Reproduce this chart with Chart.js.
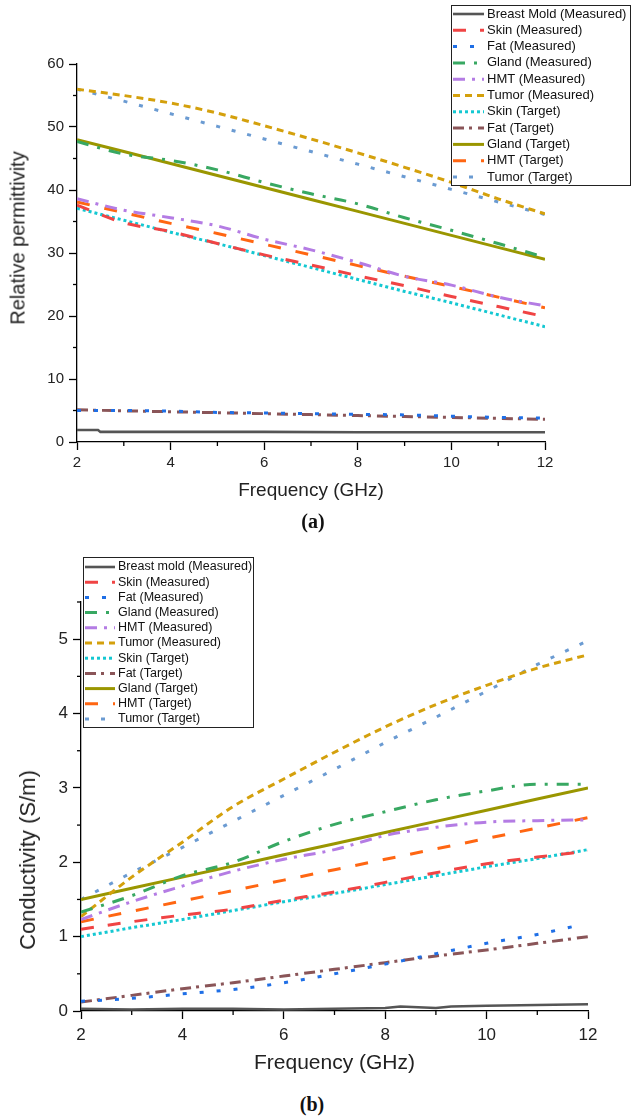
<!DOCTYPE html>
<html>
<head>
<meta charset="utf-8">
<script src="https://cdn.jsdelivr.net/npm/chart.js@4.4.0/dist/chart.umd.min.js"></script>
<style>
  body { margin: 0; background: #fff; width: 631px; height: 1119px; position: relative; overflow: hidden;
         font-family: "Liberation Sans", Arial, sans-serif; }
  canvas { position: absolute; left: 0; }
  #chartA { top: 0; }
  #chartB { top: 545px; }
  .ytitle { position: absolute; color: #222; white-space: nowrap; transform: translate(-50%, -50%) rotate(-90deg); }
  .cap { position: absolute; font-family: "Liberation Serif", "Times New Roman", serif; font-weight: bold;
         font-size: 20px; color: #111; transform: translate(-50%, -50%); }
</style>
</head>
<body>
<canvas id="chartA" width="631" height="510" style="width:631px;height:510px"></canvas>
<canvas id="chartB" width="631" height="545" style="width:631px;height:545px"></canvas>
<div class="ytitle" style="left:18px;top:238px;font-size:20px">Relative permittivity</div>
<div class="ytitle" style="left:28px;top:860px;font-size:22px">Conductivity (S/m)</div>
<div class="cap" style="left:313px;top:521px">(a)</div>
<div class="cap" style="left:312px;top:1104px">(b)</div>
<script>
// ---------- données (a) : permittivité relative ----------
const freqA = [2, 3, 4, 5, 6, 7, 8, 9, 10, 11, 12];
const moldFreqA = [2, 2.45, 2.5, 4, 6, 8, 10, 12];
const moldA = [1.9, 1.9, 1.6, 1.6, 1.6, 1.55, 1.55, 1.55];
const skinMeasA = [37.6, 34.8, 33.4, 31.5, 29.7, 28.1, 26.4, 24.8, 23.1, 21.5, 19.9];
const fatMeasA = [5.0, 5.0, 4.9, 4.7, 4.6, 4.5, 4.4, 4.3, 4.1, 3.9, 3.8];
const glandMeasA = [47.7, 45.7, 44.7, 43.2, 41.2, 39.4, 37.8, 35.6, 33.6, 31.5, 29.3];
const hmtMeasA = [38.6, 36.8, 35.6, 34.3, 32.2, 30.5, 28.5, 26.3, 24.9, 23.0, 21.6];
const tumorMeasA = [56.0, 55.0, 53.8, 52.2, 50.2, 48.1, 45.9, 43.6, 41.2, 38.6, 36.2];
const skinTgtA = [37.1, 35.2, 33.3, 31.5, 29.6, 27.7, 25.8, 23.9, 22.1, 20.2, 18.3];
const fatTgtA = [5.1, 4.95, 4.8, 4.65, 4.5, 4.35, 4.2, 4.05, 3.9, 3.75, 3.6];
const glandTgtA = [48.0, 46.1, 44.2, 42.3, 40.4, 38.5, 36.6, 34.7, 32.8, 30.9, 29.0];
const hmtTgtA = [38.1, 36.4, 34.7, 33.1, 31.4, 29.7, 28.0, 26.3, 24.7, 23.0, 21.3];
const tumorTgtA = [56.0, 54.1, 52.1, 50.1, 48.1, 46.1, 44.1, 42.1, 40.1, 38.1, 36.1];
const xTicksMinor = [3, 5, 7, 9, 11];
const yMinorA = [5, 15, 25, 35, 45, 55];

// ---------- données (b) : conductivité ----------
const freqB = [2, 3, 4, 5, 6, 7, 8, 9, 10, 11, 12];
const moldFreqB = [2, 3, 4, 5, 6, 7, 8, 8.3, 9, 9.3, 10, 11, 12];
const moldB = [0.03, 0.02, 0.03, 0.03, 0.02, 0.03, 0.04, 0.06, 0.04, 0.06, 0.07, 0.08, 0.09];
const skinMeasB = [1.1, 1.2, 1.29, 1.37, 1.49, 1.6, 1.73, 1.86, 1.98, 2.07, 2.15];
const fatFreqB = [2, 3, 4, 5, 6, 7, 8, 9, 10, 11, 11.8];
const fatMeasB = [0.13, 0.17, 0.23, 0.29, 0.38, 0.5, 0.63, 0.77, 0.91, 1.03, 1.15];
const glandMeasB = [1.33, 1.55, 1.82, 2.0, 2.28, 2.51, 2.68, 2.84, 2.96, 3.05, 3.05];
const hmtMeasB = [1.23, 1.47, 1.68, 1.88, 2.04, 2.17, 2.36, 2.47, 2.54, 2.56, 2.57];
const tumorMeasB = [1.27, 1.8, 2.27, 2.75, 3.12, 3.48, 3.82, 4.12, 4.38, 4.61, 4.79];
const skinTgtB = [1.0, 1.12, 1.23, 1.35, 1.47, 1.58, 1.7, 1.82, 1.94, 2.05, 2.17];
const fatTgtB = [0.12, 0.21, 0.3, 0.38, 0.47, 0.56, 0.65, 0.74, 0.82, 0.91, 1.0];
const glandTgtB = [1.5, 1.65, 1.8, 1.95, 2.1, 2.25, 2.4, 2.55, 2.7, 2.85, 3.0];
const hmtTgtB = [1.2, 1.34, 1.48, 1.62, 1.76, 1.9, 2.04, 2.18, 2.32, 2.46, 2.6];
const tumorTgtB = [1.5, 1.86, 2.2, 2.55, 2.9, 3.25, 3.61, 3.95, 4.3, 4.66, 4.98];
const yMinorB = [0.5, 1.5, 2.5, 3.5, 4.5, 5.5];

const labelsA = ['Breast Mold (Measured)', 'Skin (Measured)', 'Fat (Measured)', 'Gland (Measured)', 'HMT (Measured)',
  'Tumor (Measured)', 'Skin (Target)', 'Fat (Target)', 'Gland (Target)', 'HMT (Target)', 'Tumor (Target)'];
const labelsB = ['Breast mold (Measured)', 'Skin (Measured)', 'Fat (Measured)', 'Gland (Measured)', 'HMT (Measured)',
  'Tumor (Measured)', 'Skin (Target)', 'Fat (Target)', 'Gland (Target)', 'HMT (Target)', 'Tumor (Target)'];

// styles des courbes (couleur, tirets, épaisseur, lissage)
const styles = [
  { color: '#555555', dash: [], width: 2.6, smooth: false },
  { color: '#f04444', dash: [13, 14], width: 3, smooth: true },
  { color: '#1f6fe6', dash: [4, 13], width: 3, smooth: true },
  { color: '#38a862', dash: [12, 9, 3, 9], width: 3, smooth: true },
  { color: '#b47ce4', dash: [12, 7, 3, 7], width: 3, smooth: true },
  { color: '#d4a00c', dash: [7, 5], width: 3, smooth: true },
  { color: '#14c8d2', dash: [3, 3], width: 3, smooth: false },
  { color: '#8a5558', dash: [11, 5, 3, 6], width: 3, smooth: false },
  { color: '#9a9600', dash: [], width: 3, smooth: false },
  { color: '#ff6612', dash: [13, 15], width: 3, smooth: false },
  { color: '#6b9bd2', dash: [4, 12], width: 3, smooth: false }
];

function pts(xs, ys) {
  return ys.map((v, i) => ({ x: xs[i], y: v }));
}

function makeDatasets(labels, series) {
  return series.map((s, i) => ({
    label: labels[i],
    data: pts(s[0], s[1]),
    borderColor: styles[i].color,
    backgroundColor: styles[i].color,
    borderDash: styles[i].dash,
    borderWidth: styles[i].width,
    pointRadius: 0,
    fill: false,
    cubicInterpolationMode: styles[i].smooth ? 'monotone' : 'default',
    tension: styles[i].smooth ? 0.4 : 0
  }));
}

// petit plugin : graduations mineures + légende encadrée
function makeExtras(cfg) {
  return {
    id: 'extras',
    afterDraw(chart) {
      const ctx = chart.ctx;
      const xs = chart.scales.x, ys = chart.scales.y;
      ctx.save();
      ctx.strokeStyle = '#000';
      ctx.lineWidth = 1.3;
      ctx.setLineDash([]);
      cfg.minorX.forEach(v => {
        const p = xs.getPixelForValue(v);
        ctx.beginPath(); ctx.moveTo(p, ys.bottom); ctx.lineTo(p, ys.bottom + 4); ctx.stroke();
      });
      cfg.minorY.forEach(v => {
        const p = ys.getPixelForValue(v);
        ctx.beginPath(); ctx.moveTo(xs.left, p); ctx.lineTo(xs.left - 4, p); ctx.stroke();
      });
      const L = cfg.box;
      ctx.fillStyle = '#fff';
      ctx.fillRect(L.x, L.y, L.w, L.h);
      ctx.lineWidth = 1;
      ctx.strokeStyle = '#222';
      ctx.strokeRect(L.x + 0.5, L.y + 0.5, L.w, L.h);
      ctx.font = L.font;
      ctx.textBaseline = 'middle';
      chart.data.datasets.forEach((ds, i) => {
        const y = L.y0 + i * L.dy;
        ctx.strokeStyle = ds.borderColor;
        ctx.lineWidth = ds.borderWidth;
        ctx.setLineDash(ds.borderDash || []);
        ctx.beginPath(); ctx.moveTo(L.sx0, y); ctx.lineTo(L.sx1, y); ctx.stroke();
        ctx.fillStyle = '#111';
        ctx.fillText(ds.label, L.tx, y);
      });
      ctx.restore();
    }
  };
}

function axisOpts(o) {
  return {
    type: 'linear',
    min: o.min, max: o.max,
    border: { color: '#000', width: 1.3 },
    grid: { drawOnChartArea: false, drawTicks: true, tickLength: 8, tickColor: '#000', tickWidth: 1.3 },
    ticks: { stepSize: o.step, includeBounds: false, padding: o.pad, color: '#222', font: { size: o.tick } },
    title: o.title ? { display: true, text: o.title, color: '#222', font: { size: o.titleSize },
      padding: { top: 0, bottom: o.titlePad } } : { display: false },
    afterFit: o.fit
  };
}

Chart.defaults.font.family = '"Liberation Sans", Arial, sans-serif';
Chart.defaults.color = '#222';

// ----------- graphique (a) -----------
new Chart(document.getElementById('chartA').getContext('2d'), {
  type: 'line',
  data: {
    datasets: makeDatasets(labelsA, [
      [moldFreqA, moldA], [freqA, skinMeasA], [freqA, fatMeasA], [freqA, glandMeasA], [freqA, hmtMeasA],
      [freqA, tumorMeasA], [freqA, skinTgtA], [freqA, fatTgtA], [freqA, glandTgtA], [freqA, hmtTgtA], [freqA, tumorTgtA]
    ])
  },
  options: {
    responsive: false,
    animation: false,
    devicePixelRatio: 1,
    layout: { padding: { top: 64, right: 86, left: 0, bottom: 0 } },
    plugins: { legend: { display: false }, tooltip: { enabled: false } },
    scales: {
      x: axisOpts({ min: 2, max: 12, step: 2, pad: 4, tick: 15, title: 'Frequency (GHz)', titleSize: 19, titlePad: 8,
        fit: s => { s.height = 68; } }),
      y: axisOpts({ min: 0, max: 60, step: 10, pad: 5, tick: 15, fit: s => { s.width = 77; } })
    }
  },
  plugins: [makeExtras({
    minorX: xTicksMinor, minorY: yMinorA,
    box: { x: 451, y: 5, w: 179, h: 180, y0: 14, dy: 16.3, sx0: 453, sx1: 484, tx: 487, font: '13px "Liberation Sans", Arial, sans-serif' }
  })]
});

// ----------- graphique (b) -----------
new Chart(document.getElementById('chartB').getContext('2d'), {
  type: 'line',
  data: {
    datasets: makeDatasets(labelsB, [
      [moldFreqB, moldB], [freqB, skinMeasB], [fatFreqB, fatMeasB], [freqB, glandMeasB], [freqB, hmtMeasB],
      [freqB, tumorMeasB], [freqB, skinTgtB], [freqB, fatTgtB], [freqB, glandTgtB], [freqB, hmtTgtB], [freqB, tumorTgtB]
    ])
  },
  options: {
    responsive: false,
    animation: false,
    devicePixelRatio: 1,
    layout: { padding: { top: 57, right: 43, left: 0, bottom: 0 } },
    plugins: { legend: { display: false }, tooltip: { enabled: false } },
    scales: {
      x: axisOpts({ min: 2, max: 12, step: 2, pad: 6, tick: 17, title: 'Frequency (GHz)', titleSize: 21, titlePad: 14,
        fit: s => { s.height = 79; } }),
      y: axisOpts({ min: 0, max: 5.5, step: 1, pad: 5, tick: 17, fit: s => { s.width = 81; } })
    }
  },
  plugins: [makeExtras({
    minorX: xTicksMinor, minorY: yMinorB,
    box: { x: 83, y: 12, w: 170, h: 170, y0: 22, dy: 15.2, sx0: 85, sx1: 115, tx: 118, font: '12.5px "Liberation Sans", Arial, sans-serif' }
  })]
});
</script>
</body>
</html>
